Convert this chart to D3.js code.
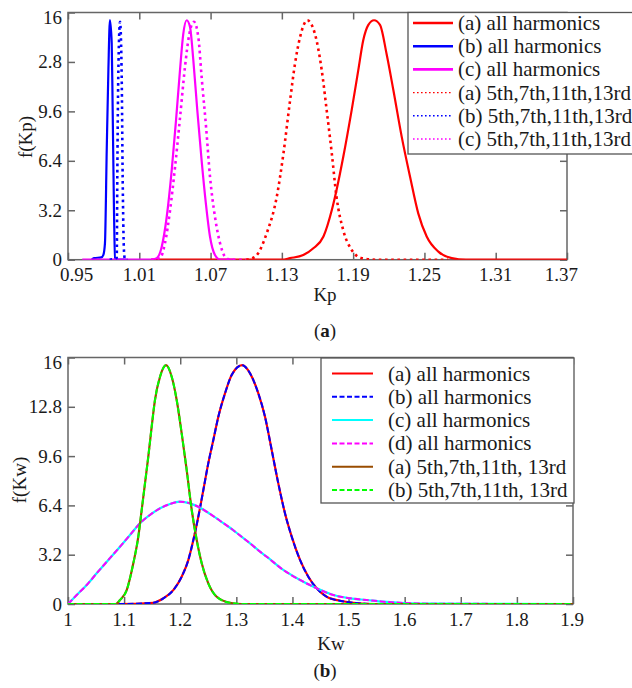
<!DOCTYPE html>
<html>
<head>
<meta charset="utf-8">
<script src="https://cdn.jsdelivr.net/npm/d3@7"></script>
<style>
  html, body { margin: 0; padding: 0; background: #fff; }
  svg { display: block; }
  text { font-family: "Liberation Serif", "Times New Roman", serif; fill: #1a1a1a; }
</style>
</head>
<body>
<svg id="fig" width="632" height="688"></svg>
<script>
// ---------- Panel (a): probability density of Kp ----------
const kpXTicks = [0.95, 1.01, 1.07, 1.13, 1.19, 1.25, 1.31, 1.37];
const kpYTicks = [0, 3.2, 6.4, 9.6, 12.8, 16];
const kpYLabels = ["0", "3.2", "6.4", "9.6", "2.8", "16"];

const kpAAll = [[1.02,0],[1.13,0],[1.1369,0.1],[1.148,0.3],[1.1565,0.74],[1.165,1.5],[1.172,3.2],[1.176,4.5],[1.1817,6.66],[1.1888,9.7],[1.1944,12.3],[1.1985,14.2],[1.2028,15.2],[1.2076,15.5],[1.2126,15.2],[1.2182,13.3],[1.2238,11.0],[1.2309,7.95],[1.2379,5.37],[1.2448,3.0],[1.2519,1.5],[1.2617,0.52],[1.273,0.1],[1.285,0],[1.37,0]];
const kpBAll = [[0.97,0],[0.972,0.1],[0.978,0.15],[0.9797,0.3],[0.9811,1.06],[0.9826,7.1],[0.984,12.3],[0.9853,15.5],[0.9868,14.0],[0.9876,9.7],[0.9887,3.2],[0.9896,0.1],[0.992,0],[0.999,0]];
const kpCAll = [[0.962,0],[1.02,0],[1.0247,0.1],[1.0289,0.84],[1.0331,2.78],[1.0373,5.8],[1.0409,9.0],[1.0443,12.3],[1.047,14.6],[1.0499,15.5],[1.0527,15.06],[1.0555,12.9],[1.0588,9.7],[1.0625,6.4],[1.0661,3.6],[1.0695,1.5],[1.0737,0.3],[1.078,0],[1.09,0]];
const kpA5 = [[1.10,0],[1.1076,0.2],[1.1172,1.7],[1.1257,4.07],[1.1312,6.8],[1.1369,10.3],[1.1411,12.7],[1.1453,14.4],[1.1514,15.5],[1.1579,14.6],[1.1635,12.3],[1.1677,9.7],[1.172,6.9],[1.176,4.07],[1.1817,1.9],[1.1888,0.63],[1.1972,0.1],[1.21,0],[1.27,0]];
const kpB5 = [[0.985,0],[0.991,0.1],[0.9915,5.4],[0.9923,11.8],[0.9938,15.4],[0.9952,11.8],[0.996,5.4],[0.9971,0.6],[0.998,0],[1.0,0]];
const kpC5 = [[1.02,0],[1.0274,0.1],[1.0316,1.06],[1.0359,3.2],[1.0401,6.0],[1.0443,9.2],[1.0485,12.5],[1.0521,14.6],[1.056,15.4],[1.0597,14.4],[1.0625,11.8],[1.0662,8.6],[1.0695,5.4],[1.0737,2.78],[1.078,1.06],[1.0821,0.2],[1.0864,0],[1.10,0]];

const kpSeries = [
  { name: "(a) all harmonics",     data: kpAAll, color: "#ff0000", style: "solid" },
  { name: "(b) all harmonics",     data: kpBAll, color: "#0000ff", style: "solid" },
  { name: "(c) all harmonics",     data: kpCAll, color: "#ff00ff", style: "solid" },
  { name: "(a) 5th,7th,11th,13rd", data: kpA5,   color: "#ff0000", style: "dot" },
  { name: "(b) 5th,7th,11th,13rd", data: kpB5,   color: "#0000ff", style: "dot" },
  { name: "(c) 5th,7th,11th,13rd", data: kpC5,   color: "#ff00ff", style: "dot" }
];

// ---------- Panel (b): probability density of Kw ----------
const kwXTicks = [1, 1.1, 1.2, 1.3, 1.4, 1.5, 1.6, 1.7, 1.8, 1.9];
const kwYTicks = [0, 3.2, 6.4, 9.6, 12.8, 16];
const kwYLabels = ["0", "3.2", "6.4", "9.6", "12.8", "16"];

// (a) and (b) all-harmonics curves coincide
const kwAB = [[1.0,0],[1.09,0],[1.152,0.08],[1.17,0.37],[1.1877,0.9],[1.2026,1.77],[1.2144,2.85],[1.2234,4.15],[1.2323,5.67],[1.2412,7.4],[1.25,9.13],[1.259,10.64],[1.2679,12.15],[1.2798,13.67],[1.2917,14.86],[1.3105,15.5],[1.3244,14.97],[1.3392,13.67],[1.3511,12.15],[1.363,10.0],[1.3748,7.83],[1.3867,5.89],[1.3987,4.37],[1.4135,2.86],[1.4283,1.77],[1.4432,1.02],[1.461,0.47],[1.4848,0.21],[1.5085,0.08],[1.55,0],[1.9,0]];
// (c) and (d) all-harmonics curves coincide
const kwCD = [[1.0,0],[1.0155,0.58],[1.0333,1.23],[1.0511,1.99],[1.0719,2.86],[1.0927,3.72],[1.1105,4.48],[1.1283,5.24],[1.1461,5.78],[1.164,6.21],[1.1818,6.49],[1.1996,6.64],[1.2174,6.53],[1.2353,6.25],[1.2531,5.85],[1.2709,5.4],[1.2887,4.95],[1.3065,4.45],[1.3244,3.94],[1.3422,3.4],[1.3541,3.07],[1.3837,2.21],[1.4135,1.56],[1.4432,1.02],[1.4729,0.58],[1.5026,0.37],[1.5323,0.26],[1.562,0.15],[1.5917,0.08],[1.65,0.02],[1.9,0]];
// (a) and (b) 5th/7th/11th/13th-harmonic curves coincide
const kwAB5 = [[1.0,0],[1.085,0],[1.0927,0.26],[1.1046,0.9],[1.1164,2.64],[1.1253,4.37],[1.1313,6.1],[1.1372,7.83],[1.1431,9.56],[1.1491,11.5],[1.155,13.24],[1.164,14.75],[1.1747,15.5],[1.1848,14.75],[1.1937,13.24],[1.2026,11.08],[1.2115,8.7],[1.2205,6.1],[1.2294,4.15],[1.2383,2.64],[1.25,1.34],[1.265,0.47],[1.2887,0.08],[1.31,0],[1.9,0]];

const kwSeries = [
  { name: "(a) all harmonics",      data: kwAB,  color: "#ff0000", style: "solid" },
  { name: "(b) all harmonics",      data: kwAB,  color: "#0000ff", style: "dash" },
  { name: "(c) all harmonics",      data: kwCD,  color: "#00ffff", style: "solid" },
  { name: "(d) all harmonics",      data: kwCD,  color: "#ff00ff", style: "dash" },
  { name: "(a) 5th,7th,11th, 13rd", data: kwAB5, color: "#994c00", style: "solid" },
  { name: "(b) 5th,7th,11th, 13rd", data: kwAB5, color: "#00ff00", style: "dash" }
];

const svg = d3.select("#fig");
const frameColor = "#666";

function drawPanel(cfg) {
  const { left, right, top, bottom } = cfg.box;
  const x = d3.scaleLinear().domain(cfg.xDomain).range([left, right]);
  const y = d3.scaleLinear().domain([0, 16]).range([bottom, top]);
  const g = svg.append("g");

  const clipId = "clip-" + cfg.id;
  svg.append("defs").append("clipPath").attr("id", clipId)
    .append("rect").attr("x", left).attr("y", top)
    .attr("width", right - left).attr("height", bottom - top);

  // inward ticks on all four sides
  const tickLen = 7;
  const axes = [
    d3.axisBottom(x).tickValues(cfg.xTicks).tickSizeInner(-tickLen).tickSizeOuter(0).tickFormat(""),
    d3.axisTop(x).tickValues(cfg.xTicks).tickSizeInner(-tickLen).tickSizeOuter(0).tickFormat(""),
    d3.axisLeft(y).tickValues(cfg.yTicks).tickSizeInner(-tickLen).tickSizeOuter(0).tickFormat(""),
    d3.axisRight(y).tickValues(cfg.yTicks).tickSizeInner(-tickLen).tickSizeOuter(0).tickFormat("")
  ];
  const pos = [`translate(0,${bottom})`, `translate(0,${top})`, `translate(${left},0)`, `translate(${right},0)`];
  axes.forEach((ax, i) => {
    const a = g.append("g").attr("transform", pos[i]).call(ax);
    a.select(".domain").remove();
    a.selectAll("line").attr("stroke", frameColor).attr("stroke-width", 1.5);
  });
  g.append("rect").attr("x", left).attr("y", top)
    .attr("width", right - left).attr("height", bottom - top)
    .attr("fill", "none").attr("stroke", frameColor).attr("stroke-width", 1.5);

  // tick labels
  const xl = g.append("g");
  cfg.xTicks.forEach(v => {
    const t = xl.append("text").attr("x", x(v)).attr("y", cfg.xLabelY)
      .attr("text-anchor", "middle").attr("font-size", 19).text(cfg.xFormat(v));
    const w = t.node().getComputedTextLength();
    let cx = x(v);
    if (cx - w / 2 < left - 8) cx = left - 8 + w / 2;
    if (cx + w / 2 > right + 11) cx = right + 11 - w / 2;
    t.attr("x", cx);
  });
  cfg.yTicks.forEach((v, i) => {
    g.append("text").attr("x", left - 6).attr("y", Math.max(y(v), top + 4.5))
      .attr("text-anchor", "end").attr("dominant-baseline", "central")
      .attr("font-size", 19).text(cfg.yLabels[i]);
  });

  // axis titles and caption
  g.append("text").attr("x", cfg.xTitle[0]).attr("y", cfg.xTitle[1])
    .attr("text-anchor", "middle").attr("font-size", 19).text(cfg.xTitleText);
  g.append("text").attr("transform", `translate(${cfg.yTitle[0]},${cfg.yTitle[1]}) rotate(-90)`)
    .attr("text-anchor", "middle").attr("dominant-baseline", "central")
    .attr("font-size", 19).text(cfg.yTitleText);
  const cap = g.append("text").attr("x", cfg.caption[0]).attr("y", cfg.caption[1])
    .attr("text-anchor", "middle").attr("font-size", 19);
  cap.append("tspan").text("(");
  cap.append("tspan").attr("font-weight", "bold").text(cfg.captionLetter);
  cap.append("tspan").text(")");

  // curves
  const line = d3.line().x(d => x(d[0])).y(d => y(d[1])).curve(d3.curveMonotoneX);
  const curves = g.append("g").attr("clip-path", `url(#${clipId})`);
  cfg.series.forEach(s => {
    const p = curves.append("path").datum(s.data).attr("d", line)
      .attr("fill", "none").attr("stroke", s.color)
      .attr("stroke-linejoin", "round");
    if (s.style === "solid") p.attr("stroke-width", cfg.solidWidth);
    if (s.style === "dot") p.attr("stroke-width", 2.6).attr("stroke-dasharray", "2.6,3.6");
    if (s.style === "dash") p.attr("stroke-width", 2).attr("stroke-dasharray", "6,2.5");
  });

  // legend
  const L = cfg.legend;
  const lg = g.append("g");
  lg.append("rect").attr("x", L.x).attr("y", L.y).attr("width", L.w).attr("height", L.h)
    .attr("fill", "#fff").attr("stroke", "#555").attr("stroke-width", 1.3);
  cfg.series.forEach((s, i) => {
    const cy = L.row0 + i * L.step;
    const ln = lg.append("line").attr("x1", L.lx1).attr("x2", L.lx2).attr("y1", cy).attr("y2", cy)
      .attr("stroke", s.color);
    if (s.style === "solid") ln.attr("stroke-width", cfg.legendSolid);
    if (s.style === "dot") ln.attr("stroke-width", 1.4).attr("stroke-dasharray", "1.6,2.4");
    if (s.style === "dash") ln.attr("stroke-width", 2).attr("stroke-dasharray", "5,2.5");
    lg.append("text").attr("x", L.tx).attr("y", cy).attr("dominant-baseline", "central")
      .attr("font-size", 21).text(s.name);
  });
}

drawPanel({
  id: "kp",
  box: { left: 68, right: 567, top: 12.5, bottom: 259.7 },
  xDomain: [0.95, 1.37], xTicks: kpXTicks, xFormat: d3.format(".2f"),
  yTicks: kpYTicks, yLabels: kpYLabels, xLabelY: 281,
  xTitle: [325, 301], xTitleText: "Kp",
  yTitle: [25, 137], yTitleText: "f(Kp)",
  caption: [325, 337], captionLetter: "a",
  series: kpSeries, solidWidth: 2.2, legendSolid: 2.6,
  legend: { x: 408, y: 12.5, w: 240, h: 141.5, row0: 23, step: 23.2, lx1: 413, lx2: 453, tx: 458 }
});

drawPanel({
  id: "kw",
  box: { left: 68, right: 573, top: 357.5, bottom: 604 },
  xDomain: [1, 1.9], xTicks: kwXTicks, xFormat: d3.format(".1~f"),
  yTicks: kwYTicks, yLabels: kwYLabels, xLabelY: 626,
  xTitle: [331, 650], xTitleText: "Kw",
  yTitle: [19, 480], yTitleText: "f(Kw)",
  caption: [325, 677], captionLetter: "b",
  series: kwSeries, solidWidth: 2.2, legendSolid: 2,
  legend: { x: 321, y: 358, w: 253, h: 145, row0: 373.5, step: 23.3, lx1: 332, lx2: 373, tx: 388 }
});
</script>
</body>
</html>
